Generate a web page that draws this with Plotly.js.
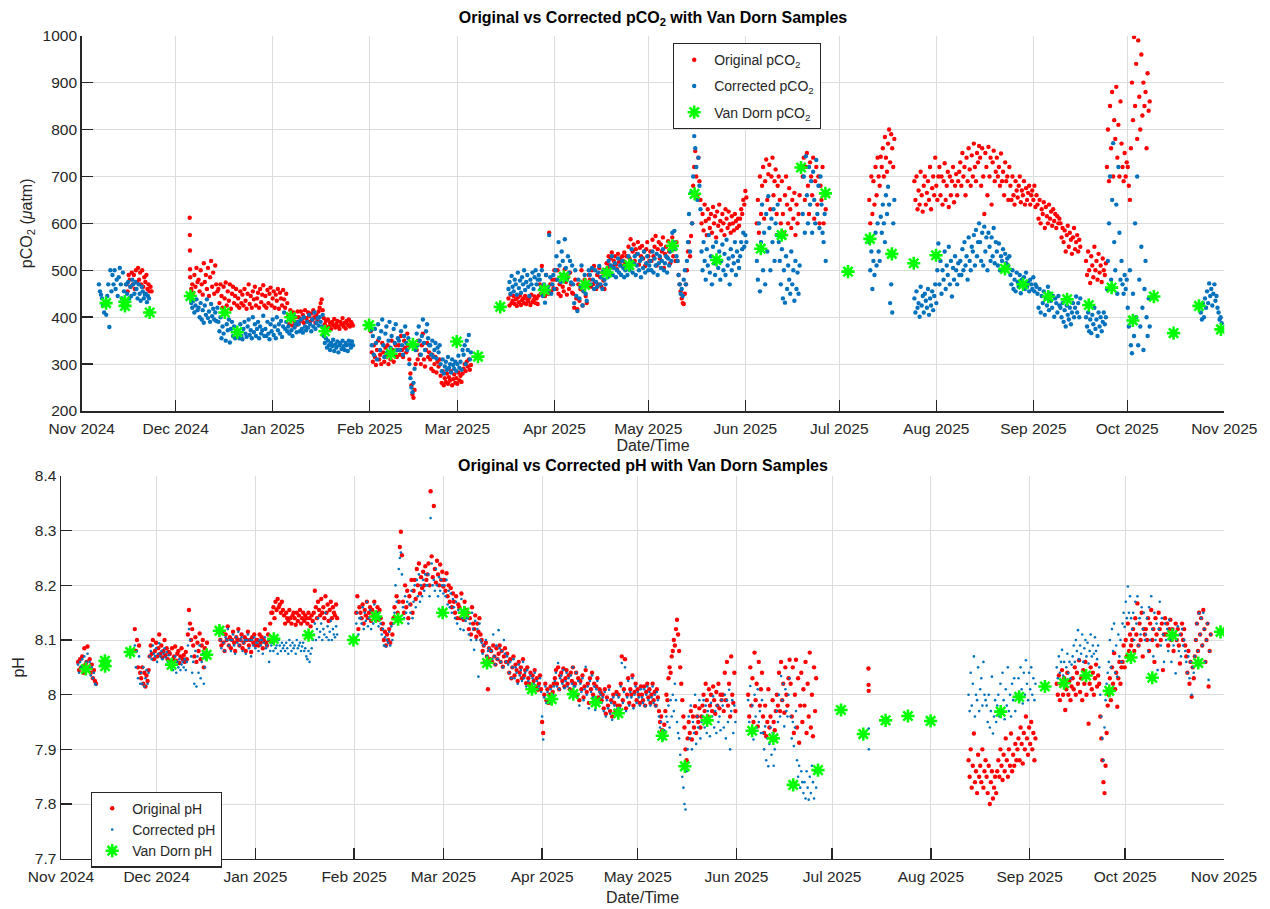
<!DOCTYPE html>
<html>
<head>
<meta charset="utf-8">
<script src="https://cdn.plot.ly/plotly-3.0.1.min.js"></script>
<style>
  html, body { margin: 0; padding: 0; background: #fff; }
  #chart { width: 1270px; height: 909px; }
</style>
</head>
<body>
<div id="chart"></div>
<script>
// Sensor records are stored as runs: [first timestamp, sampling step in hours, readings].

// pCO2 (µatm), original sensor output
const pco2Original = [
  ['2024-11-15 08:00', 8, '470 455 490 480 465 495 470 490 460 500 475 505 480 495 470 500 465 485 475 490 460 470 455 465 455'],
  ['2024-12-05 12:00', 1, '612 575 542 502'],
  ['2024-12-05 16:00', 8, '485 460 470 452 490 465 505 475 ' +
    '480 455 500 470 448 515 475 490 460 505 445 485 520 465 495 450 510 470 455 ' +
    '460 430 470 445 420 465 440 474 425 455 435 470 418 450 465 430 445 460 425 ' +
    '440 420 455 430 448 425 460 435 418 450 470 428 445 420 455 438 465 425 440 452 420 460 432 448 468 425 ' +
    '445 420 458 430 450 463 425 440 455 420 448 435 460 418 452 440 425 458 438 420 450 430 ' +
    '405 385 415 395 382 410 390 400 384 412 ' +
    '400 390 412 395 405 388 415 398 392 410 402 390 408 395 415 400 388 405 395 412 420 430 438 415 ' +
    '398 385 392 378 395 380 388 375 390 383 396 378 386 392 380 375 390 385 398 380 388 376 392 384 395 380 390 386 382'],
  ['2025-02-01 00:00', 8, '385 370 ' +
    '325 305 340 315 298 330 350 310 320 300 345 325 305 335 315 340 300 325 310 350 330 305 320 340 315 330 ' +
    '340 320 360 330 315 350 335 325 365 340 ' +
    '310 280 255 235 228 245 ' +
    '300 330 310 350 320 300 340 365 310 295 330 345 315 325 ' +
    '310 290 320 285 300 315 282 305 295 310 ' +
    '275 260 285 255 270 262 280 258 272 265 285 255 268 278 260 270 258 282 265 275 262 280 ' +
    '290 300 285 305 295 310 288 298'],
  ['2025-03-17 08:00', 8, '440 425 448 430 435 445 428 438 424 442 432 446 426 436 440 430 445 428 438 434 442 426 448 432 436 444 430 440 428 446 ' +
    '470 450 509 455 465 445 490 460 450 580 470 455 480 462 500 ' +
    '480 460 500 450 470 445 490 465 455 502 475 448 485 460 495 470 452 ' +
    '450 420 480 440 417 470 435 460 500 425 455 480 445 430 470 490 ' +
    '480 465 500 470 509 475 460 490 470 505 485 465 495 478 460 500 ' +
    '515 505 530 510 525 538 508 520 530 512 502 535 518 525 510 530 520 538 515 ' +
    '530 510 550 525 566 515 540 555 520 545 535 560 512 548 530 552 525 540 509 545 560 530 520 ' +
    '540 520 565 530 550 573 510 545 560 525 555 540 570 505 535 550 528 562 540 515 555 570 530 545 520 560 ' +
    '520 490 470 455 440 430 428 450 470 500 ' +
    '540 560 530 573 600 ' +
    '680 720 754 700 660 740 690 650 ' +
    '600 620 585 640 605 575 630 610 590 620 580 635 600 615 570 625 595 640 605 585 620 600 575 630 610 590 625 598 580 615 600 585 620 605 590 610 595 ' +
    '610 630 620 650 640 669 655'],
  ['2025-06-04 16:00', 8, '600 650 580 700 620 680 720 610 690 736 650 705 725 630 700 740 660 690 715 620 680 700 ' +
    '650 600 690 620 580 660 700 640 600 675 630 590 650 610 665 575 640 600 620 660'],
  ['2025-06-19 08:00', 8, '700 740 650 720 750 680 620 730 700 660 740 610 690 720 640 700 600 680 650 720 600 660 630'],
  ['2025-07-10 14:00', 8, '650 600 700 620 690 640 720 660 740 700 680 742 720 760 700 784 740 710 770 800 730 790 760 720 780'],
  ['2025-07-25 00:00', 8, '690 650 700 630 670 640 710 660 625 680 700 640 665 690 650 720 630 675 700 660 740 680 650 700 ' +
    '720 660 700 640 690 728 650 680 710 635 700 660 690 720 645 680 705 660 690 710 ' +
    '730 680 750 700 720 660 740 690 760 715 680 745 700 770 720 690 750 730 765 ' +
    '740 680 760 700 620 750 720 660 763 700 740 640 730 755 690 710 ' +
    '740 700 720 680 749 690 710 660 730 690 700 650 720 ' +
    '680 650 700 660 640 690 670 655 680 700 645 670 660 690 640 675 650 665 680 640 660 670 650 680 635 660 ' +
    '640 610 650 600 630 620 645 590 635 615 600 640 610 625 595 630 605 620 590 615 600 610 ' +
    '600 570 590 560 585 540 575 595 550 580 565 535 570 590 545 560 575 540 565 550'],
  ['2025-09-17 20:00', 8, '520 490 540 500 473 530 510 485 550 500 520 480 535 495 510 475 525 500 490 515 ' +
    '720 800 690 850 760 880 700 820 780 891 740 810 700 860 770 720 690 750 700 730 ' +
    '720 680 650 760 900 820 997 850 940 780 990 870 800 960 830 900 850 880 760 920 840 860']
];

// pCO2 (µatm), corrected
const pco2Corrected = [
  ['2024-11-06 12:00', 8, '470 455 448 440 425 410 430 405 445 470 379 500 455 490 470 500 460 480 445 485 505 470 440 495 455 430 470 450 475 440 465 445 480 470 450 475 460 440 470 450 435 465 455 440 448 450 432 445 440'],
  ['2024-12-05 16:00', 8, '440 430 420 435 410 425 438 415 ' +
    '420 400 430 395 415 388 425 405 438 398 412 390 428 402 418 395 410 392 420 ' +
    '390 370 400 355 380 365 410 350 385 372 395 346 375 390 360 380 355 370 365 ' +
    '370 355 385 360 353 375 390 365 358 380 395 362 372 355 400 368 385 360 375 390 355 380 365 372 403 360 ' +
    '375 360 390 365 353 385 370 395 362 380 355 400 372 385 365 392 358 380 410 375 390 370 ' +
    '380 365 395 372 360 403 378 385 368 390 ' +
    '385 370 395 375 367 400 380 372 390 378 405 385 370 395 380 410 375 388 398 382 400 390 380 405 ' +
    '360 345 355 335 350 340 330 345 338 352 328 342 335 348 325 340 345 332 350 338 330 345 340 328 350 342 335 348 340'],
  ['2025-02-01 00:00', 8, '385 372 ' +
    '340 360 320 375 345 310 385 355 330 370 395 340 315 365 380 325 350 390 335 360 320 375 345 385 330 355 ' +
    '350 330 370 340 320 360 380 345 330 355 ' +
    '300 270 250 240 260 290 ' +
    '330 365 340 380 350 320 360 395 345 330 370 385 355 340 ' +
    '340 320 350 315 330 345 312 335 325 340 ' +
    '300 285 310 280 295 305 288 315 292 300 282 310 298 290 305 285 300 318 292 305 288 330 ' +
    '320 340 300 350 330 362 310 325'],
  ['2025-03-17 08:00', 8, '460 475 450 488 465 455 480 470 448 495 462 478 452 485 470 500 458 475 490 465 445 480 470 495 460 485 500 470 480 490 ' +
    '480 460 500 445 470 431 490 455 465 575 485 450 470 490 460 ' +
    '500 530 480 560 510 475 540 520 490 566 505 480 530 495 520 474 510 ' +
    '470 430 500 445 413 480 440 465 510 425 455 490 450 435 470 500 ' +
    '490 470 505 480 460 500 475 465 495 509 470 485 460 500 480 470 ' +
    '500 485 520 495 510 530 490 505 515 485 500 525 495 510 490 520 505 485 500 ' +
    '510 490 530 500 520 545 495 515 530 490 510 535 500 520 485 525 505 540 495 515 530 500 510 ' +
    '520 500 540 495 525 510 535 490 515 530 505 520 545 500 515 530 495 525 510 540 520 580 560 584 545 530 ' +
    '520 490 470 450 460 445 480 500 470 520 ' +
    '560 620 540 665 600 ' +
    '700 786 760 720 650 740 680 630 ' +
    '540 500 560 520 480 545 510 575 495 530 470 550 515 490 560 525 505 540 480 520 555 500 535 490 565 510 525 470 545 500 530 515 560 490 540 520 505 ' +
    '530 560 545 580 550 575 560'],
  ['2025-06-04 16:00', 8, '520 480 600 455 560 640 500 580 470 620 540 658 590 500 610 560 630 520 600 575 640 560 ' +
    '520 470 545 440 500 431 530 460 510 480 450 540 470 500 435 520 460 495 450 510'],
  ['2025-06-19 08:00', 8, '620 700 580 743 660 600 720 640 690 580 710 650 600 735 620 680 590 700 640 580 560 620 520'],
  ['2025-07-10 14:00', 8, '560 500 540 460 520 490 580 510 600 540 520 614 580 640 600 560 660 620 678 640 430 470 410 600 650'],
  ['2025-07-25 00:00', 8, '440 410 455 420 430 401 465 425 445 410 450 435 420 460 405 440 425 455 415 445 470 430 500 557 ' +
    '470 520 450 500 480 540 460 510 490 550 470 520 444 505 480 530 500 470 515 490 ' +
    '520 490 545 500 560 510 530 480 570 520 500 550 540 575 510 586 530 560 600 ' +
    '560 520 580 510 593 540 570 500 580 550 520 570 530 590 515 560 ' +
    '540 510 557 500 530 520 545 505 535 515 525 510 530 ' +
    '490 470 500 460 480 455 495 475 465 490 451 480 470 485 460 495 465 475 455 480 470 460 485 455 470 465 ' +
    '450 420 460 410 445 430 455 405 440 425 465 415 450 435 420 445 401 440 430 410 445 425 ' +
    '420 400 430 390 415 380 425 405 395 420 385 410 430 400 420 444 410 430 400 440'],
  ['2025-09-17 20:00', 8, '400 380 410 370 395 366 405 385 420 375 395 360 410 380 400 370 390 410 385 400 ' +
    '460 520 600 700 480 650 771 560 500 640 450 720 580 480 520 470 450 490 460 480 ' +
    '420 380 500 340 323 450 360 600 400 700 340 480 380 550 420 330 460 520 400 360 440 380'],
  ['2025-10-24 12:00', 8, '410 395 430 400 440 420 455 430 472 445 460 425 450 470 435 445 420 410 395 400 387']
];

// pH, original sensor output
const phOriginal = [
  ['2024-11-06 08:00', 8, '8.06 8.045 8.065 8.05 8.07 8.04 8.085 8.055 8.06 8.088 8.05 8.065 8.04 8.055 8.03 8.045 8.025 8.02'],
  ['2024-11-24 04:00', 8, '8.12 8.08 8.10 8.05 8.09 8.04 ' +
    '8.03 8.05 8.02 8.04 8.015 8.035 8.025 8.045 ' +
    '8.07 8.09 8.075 8.1 8.065 8.08 8.095 8.07 8.085 8.11 8.075 8.09 8.068 8.08 8.1 8.072 8.085 8.065 8.078 ' +
    '8.075 8.06 8.085 8.065 8.07 8.088 8.062 8.075 8.08 8.058 8.07 8.085 8.065 8.072 8.06 8.078 8.065 ' +
    '8.11 8.155 8.13 8.1 8.12 ' +
    '8.09 8.07 8.105 8.06 8.095 8.08 8.112 8.065 8.09 8.1 8.05 8.085 8.075 8.095'],
  ['2024-12-21 00:00', 8, '8.1 8.09 8.115 8.095 8.08 8.11 8.1 8.125 8.09 8.105 8.085 8.1 8.115 8.095 8.08 8.105 8.1 8.12 8.09 8.1 8.11 8.085 8.095 8.105 8.08 8.1 8.115 8.09 8.1 8.078 8.105 8.095 8.11 8.09 8.1 ' +
    '8.1 8.09 8.11 8.095 8.105 8.085 8.1 8.12 8.095 8.09 8.11 8.1 8.13 8.15 ' +
    '8.15 8.16 8.14 8.17 8.155 8.175 8.16 8.165 8.15 8.17 8.155 ' +
    '8.145 8.13 8.15 8.14 8.135 8.155 8.14 8.13 8.145 8.15 8.14 8.128 8.15 8.135 8.145 8.155 8.13 8.14 8.15 8.135 8.145 8.14 8.13 8.15 8.14 8.125 8.145 8.135 ' +
    '8.15 8.19 8.16 8.14 8.17 8.155 8.145 8.175 8.15 8.16 8.14 8.18 8.15 8.165 8.135 8.155 8.17 8.14 8.16 8.15 8.145 8.165 8.14'],
  ['2025-02-01 08:00', 8, '8.1 8.15 8.18 8.12 8.16 ' +
    '8.15 8.14 8.165 8.13 8.155 8.145 8.17 8.14 8.15 8.16 8.135 8.155 8.145 8.17 8.14 8.15 8.16 8.137 8.155 ' +
    '8.14 8.12 8.13 8.1 8.115 8.09 8.11 8.1 8.12 8.095 8.13 8.11 8.14 ' +
    '8.16 8.14 8.18 8.15 8.17 ' +
    '8.27 8.298 8.255 ' +
    '8.17 8.15 8.2 8.16 8.19 8.14 8.18 8.165 8.21 8.15 ' +
    '8.19 8.21 8.175 8.23 8.2 8.24 8.185 8.215 8.195 8.225 8.2 8.235 8.21 ' +
    '8.22 8.24 8.2 8.372 8.253 8.215 8.345 8.23 8.205 8.245 8.22 8.2 8.238 8.21 8.225 8.198 ' +
    '8.21 8.19 8.222 8.18 8.2 8.17 8.195 8.16 8.185 ' +
    '8.17 8.15 8.18 8.14 8.165 8.16 8.14 8.185 8.15 8.137 8.17 8.155 8.145 ' +
    '8.15 8.12 8.14 8.11 8.16 8.13 8.12 8.145 8.106 8.13 8.115 8.14 8.11 ' +
    '8.1 8.08 8.09 8.06 8.095 8.07 8.01 8.085 8.065 ' +
    '8.08 8.06 8.09 8.07 8.055 8.085 8.065 8.075 8.09 8.06 8.08 8.051 8.07 8.085 8.06 8.075 ' +
    '8.06 8.04 8.065 8.03 8.05 8.07 8.035 8.055 8.045 8.025 8.06 8.04 8.05 8.03 8.065 8.035 8.045 8.021 8.05 ' +
    '8.03 8.02 8.04 8.01 8.035 8.025 8.045 8.015 8.03 8.009 8.02 8.035 ' +
    '8.01 7.95 7.93 8.0 8.02 7.99 8.01 7.985 8.0 8.015 7.99 8.005 8.02 ' +
    '8.03 8.045 8.02 8.05 8.01 8.035 8.04 8.025 8.048 8.015 8.03 8.045 8.02 8.035 8.01 8.04 8.025 8.05 8.02 ' +
    '8.02 8.04 8.0 8.03 7.99 8.025 8.01 8.035 7.995 8.015 8.045 8.005 8.02 7.985 8.03 8.01 8.04 8.0 8.02 7.99 8.015 8.03 7.995 8.01 8.005 ' +
    '7.99 8.0 7.975 8.01 7.965 7.995 7.98 8.015 7.97 7.99 7.96 8.0 7.985 7.97 8.005 7.98 ' +
    '8.0 7.98 8.02 8.07 7.99 8.01 8.065 7.975 8.0 8.03 7.985 8.01 8.0 8.035 7.98 8.005 8.02 7.99 8.01 8.0 7.985 8.015 ' +
    '8.0 7.99 8.015 7.98 8.005 8.02 7.995 8.01 7.985 8.0 8.02 7.99 8.005 7.98 8.01 7.995 ' +
    '7.97 7.95 7.96 7.935 7.924 7.945 ' +
    '7.97 8.0 7.99 8.03 8.05 8.04 8.07 8.08 8.1 8.09 8.12 8.137 8.11 ' +
    '8.08 8.05 8.02 7.99 7.96 7.94 7.9 7.88 7.92 ' +
    '7.95 7.93 7.97 7.918 7.96 7.94 7.979 7.93 7.96 7.95 7.975 7.94 7.96 ' +
    '7.98 8.0 7.97 8.02 7.99 7.96 8.01 7.98 8.0 7.97 8.015 7.99 7.965 8.005 7.98 8.02 7.975 8.0 7.99 ' +
    '8.0 7.97 8.04 7.99 8.06 7.98 8.02 7.96 8.07 8.0 7.985 8.04 7.97'],
  ['2025-06-04 16:00', 8, '8.0 7.96 8.05 7.98 8.03 7.95 8.077 7.99 8.02 7.942 8.06 7.98 8.01 8.04 ' +
    '7.96 7.93 7.98 7.924 7.95 8.01 7.94 7.96 7.92 7.99 7.95 7.935 7.97 ' +
    '8.0 7.98 8.04 7.97 8.06 7.99 8.02 7.967 8.05 8.0 7.98 8.03 8.064 ' +
    '8.02 7.96 8.05 7.93 8.0 8.064 7.94 8.03 7.912 7.98 8.04 7.95 8.01 ' +
    '7.98 8.06 7.93 8.02 7.96 8.077 7.94 8.0 7.924 8.05 7.97 8.03'],
  ['2025-07-12 10:00', 1, '8.048 8.018 8.007'],
  ['2025-08-12 20:00', 8, '7.88 7.85 7.9 7.83 7.87 7.929 7.84 7.86 7.82 7.89 7.85 7.87 7.84 7.9 7.83 7.86 7.88 ' +
    '7.85 7.82 7.87 7.8 7.84 7.86 7.81 7.83 7.85 7.82 ' +
    '7.86 7.88 7.85 7.9 7.87 7.844 7.89 7.86 7.92 7.88 7.85 7.9 7.87 7.929 7.86 7.89 7.87 7.91 7.88 ' +
    '7.9 7.92 7.88 7.94 7.91 7.874 7.93 7.9 7.96 7.92 7.89 7.94 7.91 7.95 7.9 7.93 7.88 7.92'],
  ['2025-09-09 12:00', 8, '8.02 8.0 8.035 7.99 8.02 8.045 8.0 8.03 7.972 8.01 8.04 8.0 8.025 7.99 8.015 ' +
    '8.03 8.01 8.05 8.0 8.04 8.02 8.063 8.005 8.03 7.99 8.045 8.02 8.06 8.0 8.035 7.947 8.02 8.05 8.01 8.04 8.0 8.03 8.055 8.015 8.035 ' +
    '8.02 7.96 7.92 7.88 7.84 7.82 7.87 7.93 7.98 ' +
    '8.0 8.03 7.99 8.05 8.02 8.076 8.01 8.04 7.978 8.03 8.06 8.02 8.05 ' +
    '8.06 8.09 8.05 8.1 8.07 8.13 8.08 8.11 8.09 ' +
    '8.1 8.12 8.08 8.14 8.11 8.167 8.09 8.13 8.1 8.15 8.07 8.12 8.11 ' +
    '8.12 8.1 8.14 8.08 8.13 8.155 8.1 8.12 8.06 8.14 8.11 8.09 8.15 8.12 8.1 8.13 8.045 8.11 8.14 ' +
    '8.11 8.13 8.09 8.12 8.137 8.1 8.12 8.08 8.11 8.13 8.1 8.12 8.09 8.057 8.11 8.13 8.1 8.12 8.09 ' +
    '8.07 8.04 8.08 8.02 8.06 7.996 8.05 8.03 8.07 ' +
    '8.1 8.13 8.08 8.15 8.11 8.14 8.09 8.155 8.12 8.06 8.1 8.13 8.015 8.08 8.11']
];

// pH, corrected
const phCorrected = [
  ['2024-11-06 08:00', 8, '8.055 8.04 8.06 8.05 8.065 8.045 8.07 8.05 8.06 8.075 8.045 8.06 8.035 8.05 8.03 8.04 8.02 8.018'],
  ['2024-11-24 04:00', 8, '8.09 8.05 8.08 8.03 8.07 8.02 ' +
    '8.04 8.02 8.05 8.015 8.03 8.045 8.02 8.04 ' +
    '8.07 8.08 8.065 8.09 8.075 8.07 8.085 8.06 8.075 8.094 8.07 8.08 8.065 8.075 8.085 8.068 8.078 8.06 8.072 ' +
    '8.06 8.05 8.065 8.045 8.055 8.07 8.04 8.06 8.05 8.065 8.045 8.055 8.06 8.05 8.065 8.045 8.06 ' +
    '8.09 8.12 8.1 8.07 8.04 ' +
    '8.06 8.02 8.08 8.015 8.07 8.04 8.09 8.03 8.06 8.075 8.02 8.05 8.065 8.08'],
  ['2024-12-21 00:00', 8, '8.1 8.085 8.11 8.095 8.08 8.105 8.1 8.12 8.09 8.1 8.08 8.1 8.11 8.09 8.075 8.105 8.095 8.115 8.09 8.1 8.105 8.08 8.095 8.1 8.075 8.1 8.11 8.085 8.1 8.07 8.1 8.09 8.105 8.085 8.095 ' +
    '8.095 8.08 8.1 8.09 8.1 8.075 8.095 8.105 8.085 8.09 8.1 8.06 8.08 8.09 ' +
    '8.095 8.08 8.1 8.085 8.09 8.075 8.1 8.09 8.08 8.095 8.085 ' +
    '8.09 8.08 8.095 8.085 8.075 8.1 8.09 8.08 8.095 8.085 8.09 8.075 8.1 8.085 8.09 8.095 8.08 8.088 8.095 8.08 8.085 8.07 8.065 8.08 8.06 8.075 8.085 8.1 ' +
    '8.11 8.13 8.1 8.12 8.14 8.105 8.115 8.13 8.1 8.12 8.11 8.15 8.105 8.125 8.1 8.115 8.135 8.1 8.12 8.11 8.105 8.125 8.11'],
  ['2025-02-01 08:00', 8, '8.1 8.13 8.15 8.11 8.14 ' +
    '8.14 8.13 8.16 8.12 8.15 8.135 8.17 8.125 8.14 8.155 8.12 8.15 8.13 8.165 8.135 8.145 8.15 8.125 8.14 ' +
    '8.13 8.11 8.12 8.09 8.105 8.088 8.1 8.095 8.115 8.09 8.125 8.1 8.13 ' +
    '8.15 8.2 8.17 8.14 8.23 ' +
    '8.25 8.26 8.22 ' +
    '8.16 8.14 8.18 8.15 8.17 8.13 8.165 8.15 8.19 8.14 ' +
    '8.17 8.2 8.16 8.21 8.18 8.22 8.17 8.2 8.18 8.21 8.19 8.22 8.2 ' +
    '8.2 8.22 8.18 8.323 8.24 8.2 8.21 8.19 8.23 8.2 8.18 8.215 8.19 8.21 8.2 8.185 ' +
    '8.2 8.18 8.21 8.165 8.19 8.16 8.185 8.15 8.175 ' +
    '8.16 8.14 8.17 8.13 8.155 8.15 8.12 8.175 8.14 8.118 8.16 8.135 8.14 ' +
    '8.14 8.11 8.13 8.1 8.15 8.12 8.082 8.135 8.1 8.12 8.033 8.13 8.1 ' +
    '8.095 8.075 8.09 8.06 8.1 8.07 8.08 8.085 8.06 ' +
    '8.08 8.065 8.11 8.07 8.055 8.09 8.065 8.118 8.085 8.06 8.08 8.05 8.1 8.075 8.06 8.07 ' +
    '8.055 8.04 8.06 8.03 8.05 8.065 8.03 8.05 8.04 8.02 8.055 8.035 8.045 8.025 8.06 8.03 8.04 8.015 8.045 ' +
    '8.025 8.015 8.035 8.009 8.03 8.02 8.04 8.01 8.025 8.01 8.015 8.03 ' +
    '8.005 7.96 7.918 7.995 8.015 7.985 8.005 7.985 7.995 8.01 7.985 8.0 8.015 ' +
    '8.025 8.04 8.015 8.058 8.01 8.03 8.035 8.02 8.045 8.012 8.025 8.04 8.015 8.03 8.009 8.035 8.02 8.05 8.015 ' +
    '8.015 8.04 7.995 8.025 7.98 8.02 8.005 8.03 7.99 8.01 8.051 8.0 8.015 7.975 8.025 8.005 8.035 7.995 8.015 7.972 8.01 8.025 7.99 8.005 8.0 ' +
    '7.985 7.995 7.97 8.005 7.96 7.99 7.975 8.009 7.965 7.985 7.954 7.995 7.98 7.965 8.0 7.975 ' +
    '7.995 7.975 8.015 8.058 7.985 8.005 8.05 7.97 7.995 8.025 7.98 8.005 7.995 8.03 7.975 8.0 8.015 7.985 8.005 7.995 7.98 8.01 ' +
    '7.995 7.985 8.01 7.979 8.0 8.015 7.99 8.005 7.98 7.995 8.015 7.985 8.0 7.979 8.005 7.99 ' +
    '7.96 7.94 7.95 7.925 7.918 7.935 ' +
    '7.93 7.96 7.95 7.98 7.94 7.99 7.96 8.0 7.97 8.02 7.99 7.95 7.93 ' +
    '7.92 7.89 7.87 7.85 7.83 7.8 7.79 7.86 7.9 ' +
    '7.96 7.92 7.98 7.9 7.95 7.93 8.0 7.91 7.96 7.94 7.99 7.92 7.95 ' +
    '7.96 7.99 7.94 7.98 7.93 7.97 7.95 7.924 7.985 7.96 7.997 7.94 7.97 7.93 7.98 7.95 7.96 7.935 7.99 ' +
    '7.98 7.94 8.0 7.92 7.99 7.95 8.009 7.9 7.97 7.99 7.93 7.98 7.95'],
  ['2025-06-04 16:00', 8, '7.99 7.95 8.016 7.93 7.98 7.918 8.0 7.96 7.94 8.01 7.95 7.97 7.93 7.99 ' +
    '7.93 7.9 7.942 7.88 7.92 7.869 7.91 7.94 7.89 7.93 7.87 7.9 7.92 ' +
    '7.97 7.95 8.0 7.96 8.034 7.99 8.02 7.942 8.01 7.97 7.96 8.0 8.03 ' +
    '7.96 7.92 7.95 7.906 7.94 7.97 7.88 7.85 7.87 7.83 7.86 7.84 7.82 ' +
    '7.84 7.81 7.86 7.83 7.808 7.85 7.82 7.87 7.84 7.81 7.86 7.83'],
  ['2025-07-12 12:00', 1, '7.938 7.9'],
  ['2025-08-12 20:00', 8, '8.0 7.97 8.04 7.98 8.02 8.07 7.96 8.0 7.99 8.05 7.97 8.01 8.03 7.98 8.06 8.0 7.99 ' +
    '7.98 7.95 8.0 7.94 7.97 8.033 7.929 7.96 7.99 7.95 ' +
    '7.98 8.0 7.96 8.02 7.97 8.04 7.99 7.955 8.01 7.98 8.05 7.97 8.0 7.96 8.02 7.99 8.03 7.97 8.0 ' +
    '8.0 8.03 7.99 8.05 8.01 7.984 8.04 8.0 8.063 8.02 7.99 8.04 8.01 8.05 8.0 8.03 7.99 8.02'],
  ['2025-09-09 12:00', 8, '8.05 8.03 8.07 8.04 8.06 8.082 8.035 8.06 8.027 8.05 8.075 8.04 8.06 8.03 8.055 ' +
    '8.07 8.09 8.06 8.1 8.08 8.118 8.065 8.09 8.075 8.11 8.06 8.085 8.1 8.07 8.095 8.057 8.08 8.11 8.07 8.09 8.075 8.105 8.08 8.065 8.09 ' +
    '8.05 8.0 7.96 7.92 7.88 7.94 7.99 8.02 8.04 ' +
    '8.06 8.1 8.05 8.12 8.08 8.13 8.04 8.09 8.033 8.11 8.07 8.1 8.06 ' +
    '8.13 8.15 8.124 8.17 8.14 8.198 8.15 8.18 8.14 ' +
    '8.12 8.15 8.1 8.17 8.13 8.18 8.09 8.14 8.11 8.16 8.12 8.15 8.1 ' +
    '8.11 8.14 8.08 8.16 8.1 8.18 8.12 8.07 8.15 8.1 8.13 8.045 8.12 8.17 8.09 8.14 8.11 8.06 8.13 ' +
    '8.1 8.12 8.08 8.137 8.1 8.06 8.12 8.09 8.11 8.039 8.1 8.125 8.08 8.11 8.07 8.12 8.09 8.1 8.08 ' +
    '8.06 8.04 8.07 8.03 8.06 8.0 8.05 8.04 8.07 ' +
    '8.1 8.13 8.08 8.149 8.11 8.14 8.09 8.15 8.12 8.06 8.1 8.13 8.027 8.08 8.11']
];

// Van Dorn bottle samples
const vanDornTime = ['2024-11-08 19:00', '2024-11-14 19:00', '2024-11-14 20:00', '2024-11-22 17:00',
  '2024-12-05 17:00', '2024-12-16 17:00', '2024-12-20 17:00', '2025-01-06 19:00', '2025-01-17 17:00',
  '2025-01-31 19:00', '2025-02-07 19:00', '2025-02-14 19:00', '2025-02-28 19:00', '2025-03-07 14:00',
  '2025-03-14 17:00', '2025-03-28 19:00', '2025-04-04 00:00', '2025-04-10 19:00', '2025-04-17 19:00',
  '2025-04-24 22:00', '2025-05-08 17:00', '2025-05-15 19:00', '2025-05-22 19:00', '2025-06-05 22:00',
  '2025-06-12 14:00', '2025-06-18 19:00', '2025-06-26 14:00', '2025-07-03 19:00', '2025-07-10 19:00',
  '2025-07-17 19:00', '2025-07-24 19:00', '2025-07-31 22:00', '2025-08-22 22:00', '2025-08-28 17:00',
  '2025-09-05 19:00', '2025-09-11 19:00', '2025-09-18 17:00', '2025-09-26 00:00', '2025-10-02 19:00',
  '2025-10-09 12:00', '2025-10-15 19:00', '2025-10-23 22:00', '2025-10-30 22:00'];
const vanDornPco2 = [430, 433, 424, 410, 445, 410, 368, 400, 370, 383, 322, 342, 348, 316, 422, 458, 486, 469,
  495, 511, 552, 663, 522, 546, 575, 719, 664, 497, 567, 535, 515, 532, 503, 470, 444, 438, 426, 463, 393, 444,
  366, 424, 374];
const vanDornPh = [8.047, 8.062, 8.052, 8.078, 8.055, 8.073, 8.117, 8.102, 8.109, 8.100, 8.143, 8.138, 8.150,
  8.150, 8.058, 8.010, 7.992, 8.001, 7.986, 7.966, 7.925, 7.869, 7.953, 7.934, 7.920, 7.835, 7.862, 7.972,
  7.928, 7.953, 7.961, 7.952, 7.969, 7.996, 8.015, 8.021, 8.035, 8.007, 8.068, 8.031, 8.109, 8.058, 8.115];

// Unpack runs into timestamp / value columns
function unpack(runs) {
  const x = [], y = [];
  runs.forEach(([start, stepH, vals]) => {
    const t0 = Date.parse(start.replace(' ', 'T') + ':00Z');
    vals.trim().split(/\s+/).forEach((v, i) => {
      const d = new Date(t0 + i * stepH * 3600000).toISOString();
      x.push(d.slice(0, 10) + ' ' + d.slice(11, 16));
      y.push(parseFloat(v));
    });
  });
  return { x, y };
}

const FONT = 'Liberation Sans, Arial, Helvetica, sans-serif';
const INK = '#262626';
const RED = '#ff0000', BLUE = '#0072bd', GREEN = '#00ff00';
const W = 1270, H = 909;

const po = unpack(pco2Original), pc = unpack(pco2Corrected);
const ho = unpack(phOriginal), hc = unpack(phCorrected);

const star = { symbol: 'asterisk-open', size: 11, color: GREEN, line: { color: GREEN, width: 2.6 } };

const traces = [
  { type: 'scatter', mode: 'markers', x: po.x, y: po.y, xaxis: 'x', yaxis: 'y', name: 'Original pCO<sub>2</sub>',
    marker: { color: RED, size: 4.4 }, legend: 'legend', legendgroup: 'a1' },
  { type: 'scatter', mode: 'markers', x: pc.x, y: pc.y, xaxis: 'x', yaxis: 'y', name: 'Corrected pCO<sub>2</sub>',
    marker: { color: BLUE, size: 4.4 }, legend: 'legend', legendgroup: 'a2' },
  { type: 'scatter', mode: 'markers', x: vanDornTime, y: vanDornPco2, xaxis: 'x', yaxis: 'y', name: 'Van Dorn pCO<sub>2</sub>',
    marker: star, legend: 'legend', legendgroup: 'a3' },
  { type: 'scatter', mode: 'markers', x: ho.x, y: ho.y, xaxis: 'x2', yaxis: 'y2', name: 'Original pH',
    marker: { color: RED, size: 4.4 }, legend: 'legend2', legendgroup: 'b1' },
  { type: 'scatter', mode: 'markers', x: hc.x, y: hc.y, xaxis: 'x2', yaxis: 'y2', name: 'Corrected pH',
    marker: { color: BLUE, size: 2.6 }, legend: 'legend2', legendgroup: 'b2' },
  { type: 'scatter', mode: 'markers', x: vanDornTime, y: vanDornPh, xaxis: 'x2', yaxis: 'y2', name: 'Van Dorn pH',
    marker: star, legend: 'legend2', legendgroup: 'b3' }
];

const dateAxis = {
  type: 'date', range: ['2024-11-01', '2025-11-01'], tick0: '2024-11-01', dtick: 'M1', tickformat: '%b %Y',
  showgrid: true, gridcolor: '#dcdcdc', gridwidth: 1, zeroline: false,
  ticks: 'inside', ticklen: 11, tickwidth: 1.5, tickcolor: INK, ticklabelstandoff: 3,
  showline: true, linecolor: INK, linewidth: 1.5, mirror: false,
  tickfont: { family: FONT, size: 15.5, color: INK }, automargin: false
};
const valAxis = {
  showgrid: true, gridcolor: '#dcdcdc', gridwidth: 1, zeroline: false,
  ticks: 'inside', ticklen: 11, tickwidth: 1.5, tickcolor: INK,
  showline: true, linecolor: INK, linewidth: 1.5, mirror: false,
  tickfont: { family: FONT, size: 15.5, color: INK }, automargin: false
};
const titleFont = { family: FONT, size: 16, color: INK };

const legendBox = {
  bgcolor: '#ffffff', bordercolor: INK, borderwidth: 1.2,
  font: { family: FONT, size: 14, color: INK },
  xref: 'paper', yref: 'paper', xanchor: 'left', yanchor: 'top',
  traceorder: 'grouped', itemclick: false, itemdoubleclick: false
};

const layout = {
  width: W, height: H,
  margin: { l: 0, r: 0, t: 0, b: 0, pad: 0 },
  paper_bgcolor: '#ffffff', plot_bgcolor: '#ffffff',
  showlegend: true,
  title: {
    text: '<b>Original vs Corrected pCO<sub>2</sub> with Van Dorn Samples</b>',
    xref: 'paper', yref: 'paper', x: 653 / W, xanchor: 'center', y: 1 - 17 / H, yanchor: 'middle',
    font: { family: FONT, size: 16, color: '#000000' }
  },
  xaxis: Object.assign({}, dateAxis, { domain: [81.7 / W, 1224.3 / W], anchor: 'y',
    title: { text: 'Date/Time', font: titleFont, standoff: 2 } }),
  yaxis: Object.assign({}, valAxis, { domain: [1 - 411 / H, 1 - 35.7 / H], range: [200, 1000], dtick: 100, tick0: 200, anchor: 'x',
    title: { text: 'pCO<sub>2</sub> (<i>μ</i>atm)', font: titleFont, standoff: 6 } }),
  xaxis2: Object.assign({}, dateAxis, { domain: [61 / W, 1224 / W], anchor: 'y2',
    title: { text: 'Date/Time', font: titleFont, standoff: 8 } }),
  yaxis2: Object.assign({}, valAxis, { domain: [1 - 858.7 / H, 1 - 476 / H], range: [7.7, 8.4], dtick: 0.1, tick0: 7.7, anchor: 'x2',
    title: { text: 'pH', font: titleFont, standoff: 6 } }),
  legend: Object.assign({}, legendBox, { x: 673 / W, y: 1 - 43 / H, tracegroupgap: 5 }),
  legend2: Object.assign({}, legendBox, { x: 91 / W, y: 1 - 791.5 / H, tracegroupgap: 0 }),
  annotations: [
    { text: '<b>Original vs Corrected pH with Van Dorn Samples</b>', xref: 'paper', yref: 'paper',
      x: 642.5 / W, y: 1 - 465 / H, xanchor: 'center', yanchor: 'middle', showarrow: false,
      font: { family: FONT, size: 16, color: '#000000' } }
  ]
};

Plotly.newPlot('chart', traces, layout, { staticPlot: true, displayModeBar: false });
</script>
</body>
</html>
